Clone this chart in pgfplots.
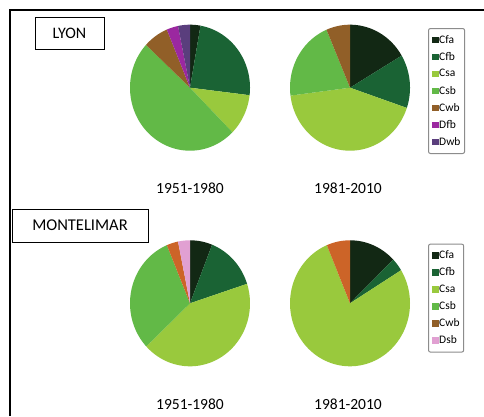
\documentclass[border=0pt]{standalone}
\usepackage{pgfplots}
\pgfplotsset{compat=1.18}
\usepackage{fontspec}
\setmainfont{Carlito}
\definecolor{cfa}{RGB}{18,40,20}
\definecolor{cfb}{RGB}{26,99,52}
\definecolor{csa}{RGB}{153,201,61}
\definecolor{csb}{RGB}{98,185,71}
\definecolor{cwb}{RGB}{145,95,40}
\definecolor{cwbor}{RGB}{204,100,40}
\definecolor{dfb}{RGB}{155,40,160}
\definecolor{dwb}{RGB}{90,62,125}
\definecolor{dsb}{RGB}{225,160,210}
% pie slices from percentages, clockwise from 12 o'clock
\newcommand{\pieslices}[1]{%
  \gdef\piecum{0}%
  \foreach \v/\c in {#1}{%
    \pgfmathsetmacro{\pa}{90-3.6*\piecum}%
    \pgfmathsetmacro{\pnew}{\piecum+\v}%
    \xdef\piecum{\pnew}%
    \pgfmathsetmacro{\pb}{90-3.6*\piecum}%
    \edef\doslice{\noexpand\addplot[draw=none, fill=\c, data cs=polar, domain=\pb:\pa, samples=90, forget plot] ({x},{1}) -- (axis cs:0,0) -- cycle;}%
    \doslice
  }%
}
\pgfplotsset{pieaxis/.style={width=120pt, height=126pt, scale only axis, hide axis,
  xmin=-1, xmax=1, ymin=-1, ymax=1, clip=false, anchor=center,
  legend image code/.code={\fill[sharp corners, draw=none, line width=0pt, ##1] (0pt,-3.3pt) rectangle (6.6pt,3.3pt);},
  legend cell align=left,
  legend style={draw=gray!90, line width=1pt, rounded corners=2pt, anchor=north west,
    font=\fontsize{11.5}{12}\selectfont, inner xsep=3.5pt, inner ysep=3pt,
    nodes={inner sep=0.6pt, minimum height=17pt},
    column 2/.style={nodes={text width=27pt, align=left}}}}}
\begin{document}
\begin{tikzpicture}
\useasboundingbox (0,0) rectangle (484pt,416pt);
\fill[white] (0,0) rectangle (484pt,416pt);
% LYON
\begin{axis}[pieaxis, at={(190pt,328.3pt)},
  legend style={at={(2.4833,0.9738)}}]
\pieslices{2.8/cfa, 24.1/cfb, 10.6/csa, 49.4/csb, 6.8/cwb, 3.1/dfb, 3.2/dwb}
\addlegendimage{fill=cfa, draw=none} \addlegendentry{Cfa}
\addlegendimage{fill=cfb, draw=none} \addlegendentry{Cfb}
\addlegendimage{fill=csa, draw=none} \addlegendentry{Csa}
\addlegendimage{fill=csb, draw=none} \addlegendentry{Csb}
\addlegendimage{fill=cwb, draw=none} \addlegendentry{Cwb}
\addlegendimage{fill=dfb, draw=none} \addlegendentry{Dfb}
\addlegendimage{fill=dwb, draw=none} \addlegendentry{Dwb}
\end{axis}
\begin{axis}[pieaxis, at={(350pt,328.3pt)}]
\pieslices{16.5/cfa, 13.7/cfb, 42.8/csa, 20.6/csb, 6.4/cwb}
\end{axis}
% MONTELIMAR
\begin{axis}[pieaxis, at={(190pt,112.7pt)},
  legend style={at={(2.4833,0.9738)}}]
\pieslices{6.0/cfa, 14.0/cfb, 43.0/csa, 30.7/csb, 3.1/cwbor, 3.2/dsb}
\addlegendimage{fill=cfa, draw=none} \addlegendentry{Cfa}
\addlegendimage{fill=cfb, draw=none} \addlegendentry{Cfb}
\addlegendimage{fill=csa, draw=none} \addlegendentry{Csa}
\addlegendimage{fill=csb, draw=none} \addlegendentry{Csb}
\addlegendimage{fill=cwb, draw=none} \addlegendentry{Cwb}
\addlegendimage{fill=dsb, draw=none} \addlegendentry{Dsb}
\end{axis}
\begin{axis}[pieaxis, at={(350pt,112.7pt)}]
\pieslices{12.8/cfa, 3.4/cfb, 77.5/csa, 6.3/cwbor}
\end{axis}
% frame
\draw[line width=2pt] (10pt,0pt) -- (10pt,406.3pt) -- (484pt,406.3pt);
% title boxes
\node[draw, line width=0.8pt, minimum width=69pt, minimum height=32pt, inner sep=0pt,
  font=\fontsize{16}{18}\selectfont] at (69.5pt,383pt) {LYON};
\node[draw, line width=0.8pt, minimum width=136pt, minimum height=33pt, inner sep=0pt,
  font=\fontsize{16.5}{18}\selectfont] at (80pt,190.5pt) {MONTELIMAR};
% period labels
\node[font=\fontsize{15.5}{17}\selectfont] at (190pt,228pt) {1951-1980};
\node[font=\fontsize{15.5}{17}\selectfont] at (348pt,228pt) {1981-2010};
\node[font=\fontsize{15.5}{17}\selectfont] at (190pt,12pt) {1951-1980};
\node[font=\fontsize{15.5}{17}\selectfont] at (348pt,12pt) {1981-2010};
\end{tikzpicture}
\end{document}
